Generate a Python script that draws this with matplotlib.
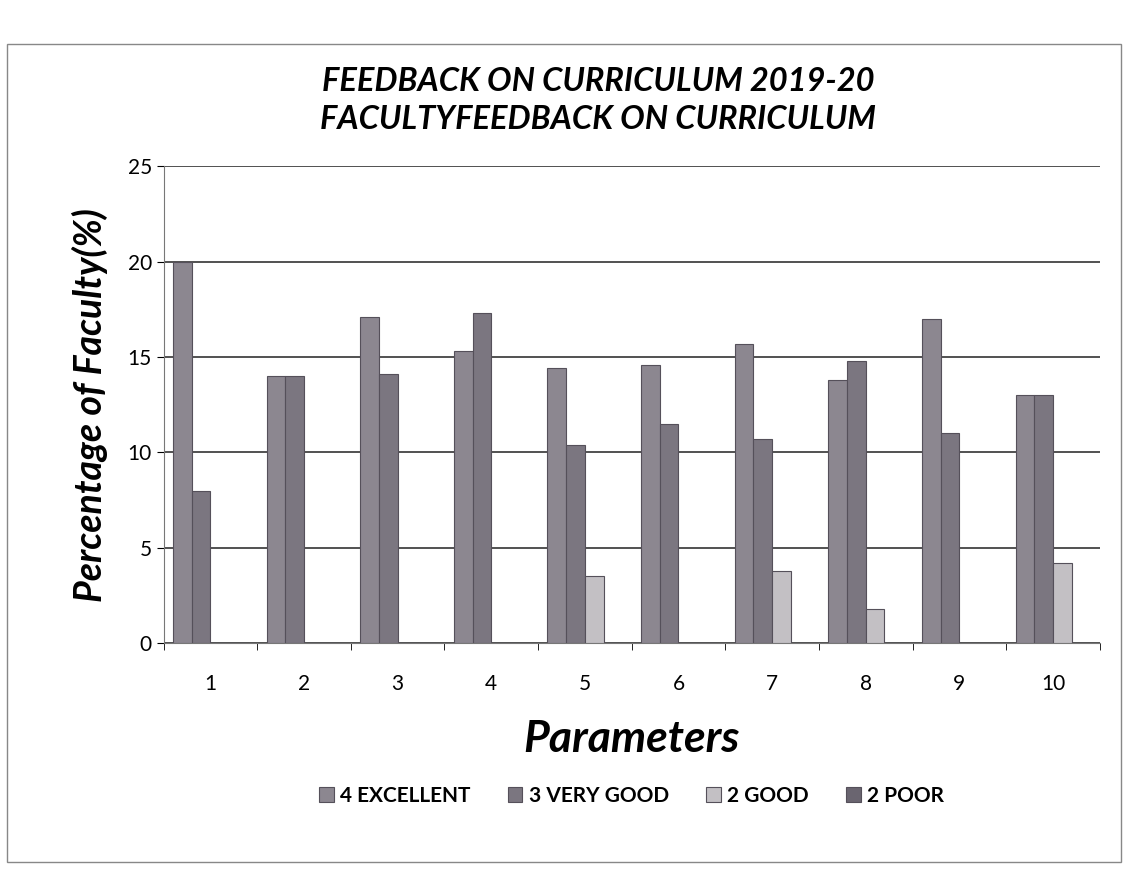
import matplotlib.pyplot as plt
import numpy as np

plt.rcParams['font.family'] = ['Lato', 'DejaVu Sans']

params = ['1', '2', '3', '4', '5', '6', '7', '8', '9', '10']
series = ['4 EXCELLENT', '3 VERY GOOD', '2 GOOD', '2 POOR']
excellent = [20.0, 14.0, 17.1, 15.3, 14.4, 14.6, 15.7, 13.8, 17.0, 13.0]
very_good = [8.0, 14.0, 14.1, 17.3, 10.4, 11.5, 10.7, 14.8, 11.0, 13.0]
good = [0, 0, 0, 0, 3.5, 0, 3.8, 1.8, 0, 4.2]
poor = [0, 0, 0, 0, 0, 0, 0, 0, 0, 0]
colors = ['#8c8790', '#7b7680', '#c3c0c4', '#6a6570']

fig = plt.figure(figsize=(11.28, 8.75), dpi=100)
ax = fig.add_axes([0.145, 0.265, 0.83, 0.545])

x = np.arange(len(params))
w = 0.2
for i, (vals, name) in enumerate(zip([excellent, very_good, good, poor], series)):
    ax.bar(x + (i - 1.5) * w, vals, w, color=colors[i], edgecolor='#55505a',
           linewidth=0.8, label=name, zorder=3)

ax.set_ylim(0, 25)
ax.set_xlim(-0.5, len(params) - 0.5)
ax.set_yticks([0, 5, 10, 15, 20, 25])
ax.set_xticks(x)
ax.set_xticklabels(params)
ax.yaxis.grid(True, color='#333333', linewidth=1.2, zorder=0)
ax.set_xticks(np.arange(-0.5, len(params)), minor=True)
ax.tick_params(axis='x', which='major', length=0, pad=22, labelsize=15)
ax.tick_params(axis='x', which='minor', length=5)
ax.tick_params(axis='y', labelsize=15, length=5)
for s in ['top', 'right']:
    ax.spines[s].set_visible(False)
ax.spines['left'].set_color('#777777')
ax.spines['bottom'].set_color('#777777')

ax.set_ylabel('Percentage of Faculty(%)', fontsize=27, fontweight='bold',
              fontstyle='italic', labelpad=14)
ax.set_xlabel('Parameters', fontsize=32, fontweight='bold', fontstyle='italic',
              labelpad=18)
fig.text(0.53, 0.885, 'FEEDBACK ON CURRICULUM 2019-20\nFACULTYFEEDBACK ON CURRICULUM',
         ha='center', va='center', fontsize=23.5, fontweight='bold',
         fontstyle='italic', linespacing=1.4)

ax.legend(loc='upper center', bbox_to_anchor=(0.5, -0.26), ncol=4, frameon=False,
          prop={'size': 15, 'weight': 'bold'}, handlelength=0.7, handleheight=0.7,
          columnspacing=1.8, handletextpad=0.3)

fig.patches.append(plt.Rectangle((0.006, 0.015), 0.988, 0.935, transform=fig.transFigure,
                                 fill=False, edgecolor='#888888', linewidth=1))

plt.savefig('out.png')
